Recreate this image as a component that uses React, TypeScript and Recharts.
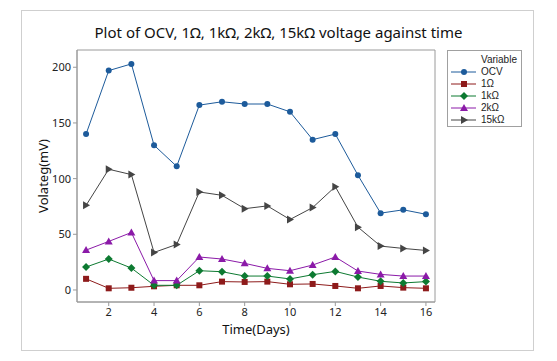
import React from "react";
import { LineChart, Line, XAxis, YAxis, ReferenceArea } from "recharts";

const days = [1, 2, 3, 4, 5, 6, 7, 8, 9, 10, 11, 12, 13, 14, 15, 16];
const ocv = [140, 197, 203, 130, 111, 166, 169, 167, 167, 160, 135, 140, 103, 69, 72, 68];
const r1 = [10, 1.5, 2, 3.3, 4.2, 4.2, 7.5, 7.2, 7.5, 5.1, 5.4, 3.6, 1.5, 3.6, 2.1, 1.5];
const r1k = [20.6, 27.8, 19.7, 4.2, 4.2, 17.3, 16.4, 12.5, 12.5, 9.9, 13.7, 16.7, 11.6, 7.8, 6.3, 7.5];
const r2k = [35.8, 43.6, 51.6, 8.4, 8.4, 29.6, 27.8, 23.9, 19.4, 17.3, 22.4, 29.6, 17, 14, 12.5, 12.5];
const r15k = [76, 108.4, 103.6, 33.7, 40.9, 88, 85, 73, 75.5, 63.3, 74, 92.8, 56.4, 39.4, 37.3, 35.5];

const xTicks = [2, 4, 6, 8, 10, 12, 14, 16];
const yTicks = [0, 50, 100, 150, 200];

const title = "Plot of OCV, 1\u03A9, 1k\u03A9, 2k\u03A9, 15k\u03A9 voltage against time";
const xLabel = "Time(Days)";
const yLabel = "Volateg(mV)";
const legendTitle = "Variable";

type SeriesDef = { key: string; name: string; color: string; shape: string; values: number[] };
const series: SeriesDef[] = [
  { key: "ocv", name: "OCV", color: "#1d5b9b", shape: "circle", values: ocv },
  { key: "r1", name: "1\u03A9", color: "#8e1b1b", shape: "square", values: r1 },
  { key: "r1k", name: "1k\u03A9", color: "#0d7a31", shape: "diamond", values: r1k },
  { key: "r2k", name: "2k\u03A9", color: "#8b1aa8", shape: "triangle", values: r2k },
  { key: "r15k", name: "15k\u03A9", color: "#454545", shape: "rtriangle", values: r15k },
];

const data = days.map((d, i) => {
  const row: Record<string, number> = { day: d };
  series.forEach((s) => (row[s.key] = s.values[i]));
  return row;
});

const FONT = "'Noto Sans', 'Open Sans', sans-serif";
const LEGEND_FONT = "'Liberation Sans', 'DejaVu Sans', sans-serif";

function MarkerShape({ cx, cy, shape, color }: { cx: number; cy: number; shape: string; color: string }) {
  if (cx == null || cy == null) return null;
  switch (shape) {
    case "circle":
      return <circle cx={cx} cy={cy} r={3} fill={color} />;
    case "square":
      return <rect x={cx - 3} y={cy - 3} width={6} height={6} fill={color} />;
    case "diamond":
      return <polygon points={`${cx},${cy - 4} ${cx + 4},${cy} ${cx},${cy + 4} ${cx - 4},${cy}`} fill={color} />;
    case "triangle":
      return <polygon points={`${cx},${cy - 4} ${cx + 4},${cy + 3} ${cx - 4},${cy + 3}`} fill={color} />;
    case "rtriangle":
      return <polygon points={`${cx - 3},${cy - 4} ${cx + 4},${cy} ${cx - 3},${cy + 4}`} fill={color} />;
    default:
      return null;
  }
}

function LegendBox() {
  return (
    <div
      style={{
        position: "absolute",
        left: 447,
        top: 50,
        border: "1px solid #a0a0a0",
        width: 75,
        height: 77,
        boxSizing: "border-box",
        fontFamily: LEGEND_FONT,
        fontSize: 10,
        color: "#222",
        background: "#fff",
        paddingTop: 3,
      }}
    >
      <div style={{ marginLeft: 33, height: 12, lineHeight: "12px" }}>{legendTitle}</div>
      {series.map((s) => (
        <div key={s.key} style={{ display: "flex", alignItems: "center", height: 12, lineHeight: "12px" }}>
          <svg width={28} height={12} style={{ marginLeft: 3, flex: "none" }}>
            <line x1={0} y1={6} x2={25} y2={6} stroke={s.color} strokeWidth={1} />
            <MarkerShape cx={13} cy={6} shape={s.shape} color={s.color} />
          </svg>
          <span style={{ marginLeft: 2 }}>{s.name}</span>
        </div>
      ))}
    </div>
  );
}

export default function App() {
  return (
    <div style={{ position: "absolute", left: 0, top: 0, width: 557, height: 361, background: "#fff" }}>
      <div
        style={{
          position: "absolute",
          left: 21,
          top: 10,
          width: 511,
          height: 339,
          border: "1px solid #cfcfcf",
        }}
      />
      <div
        style={{
          position: "absolute",
          left: 0,
          width: 557,
          top: 22,
          textAlign: "center",
          fontFamily: FONT,
          fontSize: 15,
          color: "#111",
        }}
      >
        {title}
      </div>
      <div style={{ position: "absolute", left: 0, top: 0 }}>
        <LineChart
          width={557}
          height={361}
          data={data}
          margin={{ top: 50, right: 122, bottom: 0, left: 0 }}
        >
          <XAxis
            dataKey="day"
            type="number"
            domain={[0.6, 16.4]}
            ticks={xTicks}
            allowDataOverflow
            height={59}
            tickSize={4}
            stroke="#9a9a9a"
            tick={{ fill: "#222", fontSize: 11, fontFamily: FONT }}
          />
          <YAxis
            type="number"
            domain={[-10.8, 215.5]}
            ticks={yTicks}
            allowDataOverflow
            width={77}
            tickSize={4}
            stroke="#9a9a9a"
            tick={{ fill: "#222", fontSize: 11, fontFamily: FONT }}
          />
          <ReferenceArea
            x1={0.6}
            x2={16.4}
            y1={-10.8}
            y2={215.5}
            fill="none"
            fillOpacity={0}
            stroke="#9a9a9a"
            strokeWidth={1}
            ifOverflow="visible"
          />
          {series.map((s) => (
            <Line
              key={s.key}
              dataKey={s.key}
              name={s.name}
              stroke={s.color}
              strokeWidth={1}
              isAnimationActive={false}
              dot={(p: any) => <MarkerShape key={`${s.key}-${p.index}`} cx={p.cx} cy={p.cy} shape={s.shape} color={s.color} />}
              activeDot={false}
            />
          ))}
        </LineChart>
      </div>
      <LegendBox />
      <div
        style={{
          position: "absolute",
          left: 77,
          width: 358,
          top: 320,
          textAlign: "center",
          fontFamily: FONT,
          fontSize: 13,
          color: "#111",
        }}
      >
        {xLabel}
      </div>
      <div
        style={{
          position: "absolute",
          left: 43,
          top: 176,
          transform: "translate(-50%, -50%) rotate(-90deg)",
          fontFamily: FONT,
          fontSize: 13,
          color: "#111",
          whiteSpace: "nowrap",
        }}
      >
        {yLabel}
      </div>
    </div>
  );
}
